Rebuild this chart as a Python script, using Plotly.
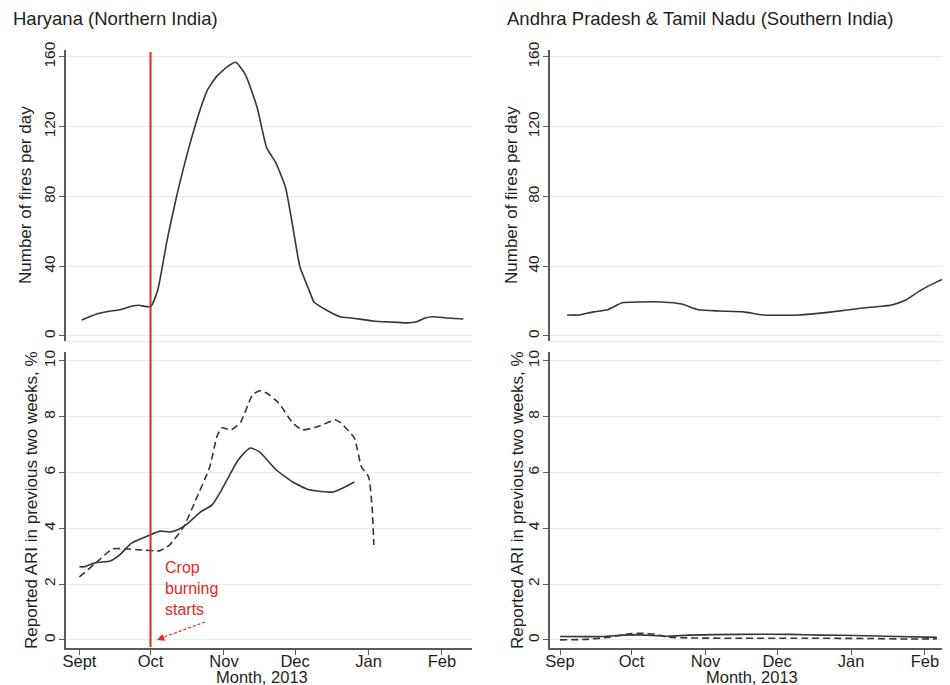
import plotly.graph_objects as go

# ---------------- data ----------------
month_ticks = ["2013-09-01", "2013-10-01", "2013-11-01", "2013-12-01", "2014-01-01", "2014-02-01"]
left_month_labels = ["Sept", "Oct", "Nov", "Dec", "Jan", "Feb"]
right_month_labels = ["Sep", "Oct", "Nov", "Dec", "Jan", "Feb"]
crop_burning_start = "2013-10-01"

# Haryana: number of fires per day
har_fire_dates = ["2013-09-02", "2013-09-08", "2013-09-13", "2013-09-18", "2013-09-23", "2013-09-26",
                  "2013-10-01", "2013-10-04", "2013-10-08", "2013-10-12", "2013-10-17", "2013-10-22",
                  "2013-10-25", "2013-10-29", "2013-11-03", "2013-11-06", "2013-11-10", "2013-11-15",
                  "2013-11-19", "2013-11-23", "2013-11-27", "2013-11-30", "2013-12-03", "2013-12-07",
                  "2013-12-09", "2013-12-14", "2013-12-20", "2013-12-25", "2014-01-03", "2014-01-10",
                  "2014-01-17", "2014-01-21", "2014-01-25", "2014-01-28", "2014-02-03", "2014-02-10"]
har_fire_vals = [9.2, 12.5, 14, 15, 17, 17.6,
                 16.8, 26, 55, 80, 107, 130,
                 141, 149, 155, 157, 150, 131,
                 108, 99, 85, 63, 40, 26,
                 19.5, 15, 11, 10.3, 8.6, 8,
                 7.5, 8, 10.3, 11, 10.3, 9.7]

# Haryana: reported ARI (solid)
har_ari_a_dates = ["2013-09-01", "2013-09-03", "2013-09-08", "2013-09-14", "2013-09-18", "2013-09-23",
                   "2013-10-01", "2013-10-05", "2013-10-09", "2013-10-12", "2013-10-16", "2013-10-22",
                   "2013-10-27", "2013-10-31", "2013-11-07", "2013-11-12", "2013-11-16", "2013-11-23",
                   "2013-11-30", "2013-12-07", "2013-12-17", "2013-12-21", "2013-12-26"]
har_ari_a_vals = [2.62, 2.62, 2.77, 2.83, 3.05, 3.47,
                  3.77, 3.9, 3.87, 3.93, 4.12, 4.58,
                  4.84, 5.38, 6.45, 6.88, 6.74, 6.1,
                  5.66, 5.38, 5.3, 5.44, 5.66]

# Haryana: reported ARI (dashed)
har_ari_b_dates = ["2013-09-01", "2013-09-07", "2013-09-15", "2013-09-21", "2013-09-26", "2013-10-05",
                   "2013-10-09", "2013-10-15", "2013-10-20", "2013-10-26", "2013-10-29", "2013-10-31",
                   "2013-11-04", "2013-11-08", "2013-11-13", "2013-11-16", "2013-11-19", "2013-11-24",
                   "2013-11-30", "2013-12-04", "2013-12-10", "2013-12-18", "2013-12-20", "2013-12-26",
                   "2013-12-29", "2014-01-01", "2014-01-02 12:00", "2014-01-03 06:00"]
har_ari_b_vals = [2.26, 2.69, 3.26, 3.26, 3.23, 3.2,
                  3.4, 4.05, 5.0, 6.2, 7.28, 7.6,
                  7.53, 7.8, 8.78, 8.93, 8.85, 8.5,
                  7.78, 7.53, 7.63, 7.88, 7.8, 7.24,
                  6.2, 5.85, 4.78, 3.4]

# Andhra Pradesh & Tamil Nadu: number of fires per day
south_fire_dates = ["2013-09-04", "2013-09-09", "2013-09-15", "2013-09-21", "2013-09-27", "2013-10-04",
                    "2013-10-14", "2013-10-22", "2013-10-29", "2013-11-07", "2013-11-17", "2013-11-25",
                    "2013-12-10", "2013-12-24", "2014-01-06", "2014-01-18", "2014-01-24", "2014-01-30",
                    "2014-02-06", "2014-02-13"]
south_fire_vals = [12, 12, 13.8, 15, 19, 19.5,
                   19.5, 18.3, 15, 14.3, 13.8, 12,
                   12, 13.8, 16, 17.8, 20.6, 26,
                   31, 35]

# Andhra Pradesh & Tamil Nadu: reported ARI (solid)
south_ari_a_dates = ["2013-09-01", "2013-09-19", "2013-09-27", "2013-10-05", "2013-10-16", "2013-10-25",
                     "2013-11-15", "2013-12-07", "2013-12-20", "2014-01-03", "2014-01-20", "2014-02-06"]
south_ari_a_vals = [0.12, 0.12, 0.17, 0.18, 0.13, 0.17,
                    0.2, 0.2, 0.17, 0.16, 0.12, 0.09]

# Andhra Pradesh & Tamil Nadu: reported ARI (dashed)
south_ari_b_dates = ["2013-09-01", "2013-09-12", "2013-09-22", "2013-09-30", "2013-10-06", "2013-10-11",
                     "2013-10-16", "2013-10-25", "2013-11-15", "2013-12-15", "2014-01-10", "2014-01-25",
                     "2014-02-06"]
south_ari_b_vals = [0.0, 0.02, 0.1, 0.22, 0.24, 0.2,
                    0.1, 0.07, 0.06, 0.06, 0.05, 0.03,
                    0.04]

# ---------------- styling ----------------
OFF = 8                      # page body margin of the browser
W, H = 950 - OFF, 685 - OFF  # figure size so that it fills the window
FONT = "Liberation Sans, Arial, sans-serif"
LINE_COL = "#363636"
RED = "#e8281e"
GRID = "#e5eded"
AXIS = "#5a5a5a"
TXT = "#1e1e1e"


def px_x(p):
    return (p - OFF) / W


def px_y(p):
    return 1 - (p - OFF) / H


left_dom = [px_x(66), px_x(472)]
right_dom = [px_x(550), 1.0]
top_dom = [px_y(341), px_y(50)]
bot_dom = [px_y(648), px_y(352)]

left_range = ["2013-08-26 08:00", "2014-02-13 16:00"]
right_range = ["2013-08-27 19:00", "2014-02-11 12:00"]

fig = go.Figure()

line_solid = dict(color=LINE_COL, width=1.6, shape="spline", smoothing=0.5)
line_dash = dict(color=LINE_COL, width=1.6, shape="spline", smoothing=0.5, dash="7px,4px")

fig.add_trace(go.Scatter(x=har_fire_dates, y=har_fire_vals, mode="lines", line=line_solid,
                         xaxis="x", yaxis="y", showlegend=False))
fig.add_trace(go.Scatter(x=south_fire_dates, y=south_fire_vals, mode="lines", line=line_solid,
                         xaxis="x2", yaxis="y2", showlegend=False))
fig.add_trace(go.Scatter(x=har_ari_a_dates, y=har_ari_a_vals, mode="lines", line=line_solid,
                         xaxis="x3", yaxis="y3", showlegend=False))
fig.add_trace(go.Scatter(x=har_ari_b_dates, y=har_ari_b_vals, mode="lines", line=line_dash,
                         xaxis="x3", yaxis="y3", showlegend=False))
fig.add_trace(go.Scatter(x=south_ari_a_dates, y=south_ari_a_vals, mode="lines", line=line_solid,
                         xaxis="x4", yaxis="y4", showlegend=False))
fig.add_trace(go.Scatter(x=south_ari_b_dates, y=south_ari_b_vals, mode="lines", line=line_dash,
                         xaxis="x4", yaxis="y4", showlegend=False))


def xaxis(dom, rng, labels, show, anchor):
    d = dict(domain=dom, range=rng, type="date", anchor=anchor, automargin=False,
             tickmode="array", tickvals=month_ticks, ticktext=labels,
             showgrid=False, zeroline=False, fixedrange=True,
             tickfont=dict(family=FONT, size=16.5, color=TXT))
    if show:
        d.update(showline=True, linecolor=AXIS, linewidth=1.5, ticks="outside",
                 ticklen=5, tickwidth=1.2, tickcolor=AXIS, showticklabels=True,
                 ticklabelstandoff=-8)
    else:
        d.update(showline=True, linecolor=GRID, linewidth=1, ticks="", showticklabels=False)
    return d


def yaxis(dom, rng, vals, anchor):
    return dict(domain=dom, range=rng, anchor=anchor, automargin=False,
                tickmode="array", tickvals=vals,
                ticktext=[str(v) for v in vals], tickangle=-90,
                showline=True, linecolor=AXIS, linewidth=1.5, ticks="outside",
                ticklen=5, tickwidth=1.2, tickcolor=AXIS, ticklabelstandoff=-2,
                showgrid=True, gridcolor=GRID, gridwidth=1, zeroline=False, fixedrange=True,
                tickfont=dict(family=FONT, size=15.5, color=TXT))


fire_ticks = [0, 40, 80, 120, 160]
ari_ticks = [0, 2, 4, 6, 8, 10]

fig.update_layout(
    width=W, height=H,
    margin=dict(l=0, r=0, t=0, b=0, pad=0),
    paper_bgcolor="white", plot_bgcolor="white",
    xaxis=xaxis(left_dom, left_range, left_month_labels, False, "y"),
    yaxis=yaxis(top_dom, [-2.9, 164], fire_ticks, "x"),
    xaxis2=xaxis(right_dom, right_range, right_month_labels, False, "y2"),
    yaxis2=yaxis(top_dom, [-2.9, 164], fire_ticks, "x2"),
    xaxis3=xaxis(left_dom, left_range, left_month_labels, True, "y3"),
    yaxis3=yaxis(bot_dom, [-0.29, 10.32], ari_ticks, "x3"),
    xaxis4=xaxis(right_dom, right_range, right_month_labels, True, "y4"),
    yaxis4=yaxis(bot_dom, [-0.29, 10.32], ari_ticks, "x4"),
    showlegend=False,
)

# red vertical line marking the start of crop burning (spans both left panels)
fig.add_shape(type="line", xref="x3", yref="paper", x0=crop_burning_start, x1=crop_burning_start,
              y0=px_y(647), y1=px_y(52), line=dict(color=RED, width=2))

# dashed arrow pointing to the red line
fig.add_shape(type="line", xref="paper", yref="paper", x0=px_x(205), y0=px_y(622),
              x1=px_x(164), y1=px_y(637), line=dict(color=RED, width=1.2, dash="3px,2px"))

annotations = [
    dict(text="Haryana (Northern India)", x=px_x(11), y=px_y(18), xanchor="left", yanchor="middle",
         font=dict(family=FONT, size=18.5, color=TXT)),
    dict(text="Andhra Pradesh & Tamil Nadu (Southern India)", x=px_x(505), y=px_y(18), xanchor="left",
         yanchor="middle", font=dict(family=FONT, size=18.5, color=TXT)),
    dict(text="Number of fires per day", x=px_x(25), y=px_y(195), textangle=-90, xanchor="center",
         yanchor="middle", font=dict(family=FONT, size=17, color=TXT)),
    dict(text="Reported ARI in previous two weeks, %", x=px_x(31), y=px_y(500), textangle=-90,
         xanchor="center", yanchor="middle", font=dict(family=FONT, size=17, color=TXT)),
    dict(text="Number of fires per day", x=px_x(511), y=px_y(195), textangle=-90, xanchor="center",
         yanchor="middle", font=dict(family=FONT, size=17, color=TXT)),
    dict(text="Reported ARI in previous two weeks, %", x=px_x(517), y=px_y(500), textangle=-90,
         xanchor="center", yanchor="middle", font=dict(family=FONT, size=17, color=TXT)),
    dict(text="Month, 2013", x=px_x(262), y=px_y(677), xanchor="center", yanchor="middle",
         font=dict(family=FONT, size=16.5, color=TXT)),
    dict(text="Month, 2013", x=px_x(752), y=px_y(677), xanchor="center", yanchor="middle",
         font=dict(family=FONT, size=16.5, color=TXT)),
    dict(text="Crop<br>burning<br>starts", x=px_x(163), y=px_y(588), xanchor="left", yanchor="middle",
         align="left", font=dict(family=FONT, size=16, color=RED)),
    dict(text="", x=px_x(157), y=px_y(640), ax=9, ay=-3.4, showarrow=True, arrowhead=2,
         arrowsize=1.2, arrowwidth=1.2, arrowcolor=RED),
]
for a in annotations:
    a.setdefault("xref", "paper")
    a.setdefault("yref", "paper")
    a.setdefault("showarrow", False)
fig.update_layout(annotations=annotations)

fig.write_html("out.html")
